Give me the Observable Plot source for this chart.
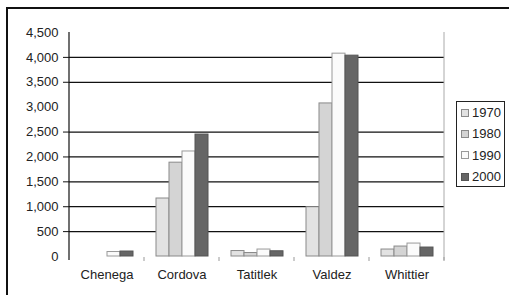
<!DOCTYPE html>
<html><head><meta charset="utf-8">
<script src="https://cdn.jsdelivr.net/npm/d3@7"></script>
<script src="https://cdn.jsdelivr.net/npm/@observablehq/plot@0.6"></script>
<style>
html,body{margin:0;padding:0;background:#fff;overflow:hidden;width:509px;height:295px}
#wrap{position:relative;width:509px;height:295px;font-family:"Liberation Sans",Arial,sans-serif;color:#222}
#border{position:absolute;left:6px;top:7px;width:600px;height:400px;border:2px solid #111;box-sizing:border-box}
#chart{position:absolute;left:0;top:0}
#legend{position:absolute;left:456px;top:101px;width:49px;height:86px;border:1px solid #222;box-sizing:border-box;background:#fff;font-size:13px;padding-top:0px}
.item{display:flex;align-items:center;height:21.3px}
.sw{width:6px;height:6px;margin-left:4px;margin-right:3px;border:1px solid #777}
</style></head>
<body><div id="wrap"><div id="border"></div><div id="chart"></div><div id="legend"></div></div>
<script>
const places = ["Chenega", "Cordova", "Tatitlek", "Valdez", "Whittier"];
const years = ["1970", "1980", "1990", "2000"];
const pop1970 = [0, 1165, 110, 990, 140];
const pop1980 = [0, 1885, 70, 3075, 200];
const pop1990 = [90, 2110, 140, 4075, 260];
const pop2000 = [100, 2450, 105, 4035, 180];
const yTicks = [0, 500, 1000, 1500, 2000, 2500, 3000, 3500, 4000, 4500];
const gridTicks = [500, 1000, 1500, 2000, 2500, 3500, 4000];
const fills = ["#e2e2e2", "#d4d4d4", "#fbfbfb", "#666666"];
const strokes = ["#8a8a8a", "#8a8a8a", "#9a9a9a", "#555555"];

const series = [pop1970, pop1980, pop1990, pop2000];
const data = places.flatMap((p, i) => years.map((yr, j) => ({place: p, year: yr, value: series[j][i]})));
const fillOf = Object.fromEntries(years.map((y, j) => [y, fills[j]]));
const strokeOf = Object.fromEntries(years.map((y, j) => [y, strokes[j]]));

const plot = Plot.plot({
  width: 509, height: 295,
  marginLeft: 69, marginRight: 65, marginTop: 32, marginBottom: 39,
  style: {fontFamily: "'Liberation Sans', Arial, sans-serif", fontSize: "13px", color: "#222", background: "transparent", overflow: "visible"},
  fx: {domain: places, padding: 0, label: null},
  x: {domain: years, paddingInner: 0, paddingOuter: 0.68, axis: null},
  y: {domain: [0, 4500], label: null},
  marks: [
    Plot.ruleY(gridTicks, {stroke: "#111", strokeWidth: 1.2}),
    Plot.barY(data, {fx: "place", x: "year", y: "value", fill: d => fillOf[d.year], stroke: d => strokeOf[d.year], strokeWidth: 1}),
    Plot.axisY({ticks: yTicks, tickSize: 0, tickPadding: 11, tickFormat: d3.format(","), fill: "#222"}),
    Plot.axisY({ticks: gridTicks, tickSize: 6, tickFormat: () => "", stroke: "#111"}),
    Plot.axisFx({anchor: "bottom", tickSize: 0, tickPadding: 13, label: null, fill: "#222"})
  ]
});
document.getElementById("chart").appendChild(plot);

// axis line, right plot edge and category boundary ticks from the plot's own scales
const fx = plot.scale("fx"), y = plot.scale("y");
const svg = d3.select(plot.tagName.toLowerCase() === "svg" ? plot : plot.querySelector("svg"));
const x0 = fx.apply(places[0]);
const x1 = fx.apply(places[places.length - 1]) + fx.bandwidth;
const yTop = y.apply(4500), yBot = y.apply(0);
svg.append("line").attr("x1", x1).attr("x2", x1).attr("y1", yTop).attr("y2", yBot + 4).attr("stroke", "#aaa");
places.forEach(p => {
  const xb = fx.apply(p) + fx.bandwidth;
  svg.append("line").attr("x1", xb).attr("x2", xb).attr("y1", yBot + 1).attr("y2", yBot + 5).attr("stroke", "#999");
});
svg.append("line").attr("x1", x0).attr("x2", x0).attr("y1", yTop).attr("y2", yBot + 4).attr("stroke", "#111").attr("stroke-width", 1.2);

const legend = d3.select("#legend");
years.forEach((yr, j) => {
  const it = legend.append("div").attr("class", "item");
  it.append("div").attr("class", "sw").style("background", fills[j]).style("border-color", strokes[j]);
  it.append("span").text(yr);
});
</script>
</body></html>
